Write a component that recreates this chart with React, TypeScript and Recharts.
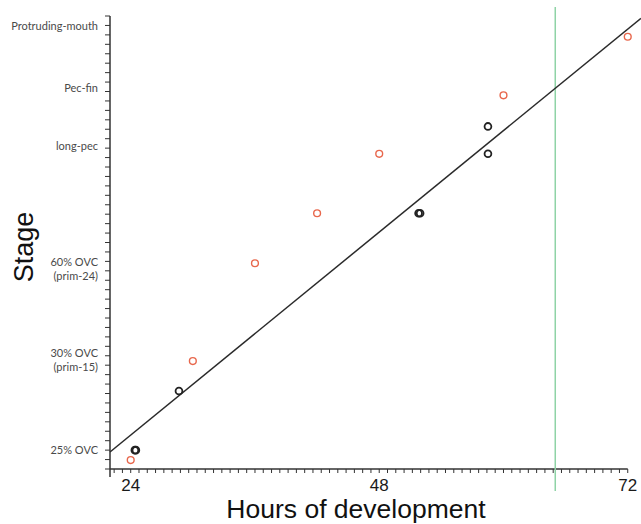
import { ReferenceLine, Scatter, ScatterChart, XAxis, YAxis } from 'recharts';

// hours of development (x) and stage position (y)
const stagedHours = [24, 30, 36, 42, 48, 60, 72];
const stagedStage = [0.95, 11.44, 21.8, 27.1, 33.4, 39.6, 45.8];

const observedHours = [24.4, 24.5, 28.66, 51.8, 51.95, 58.5, 58.5];
const observedStage = [2.0, 2.0, 8.26, 27.1, 27.1, 36.3, 33.4];

const fitHours = [22, 73.28];
const fitStage = [1.8, 47.76];

const markerHour = 65;

const hourLabels = [24, 48, 72];
const stageLabelValues = [47.05, 40.5, 34.3, 21.27, 11.63, 2.1];
const stageLabelText = [
  ['Protruding-mouth'],
  ['Pec-fin'],
  ['long-pec'],
  ['60% OVC', '(prim-24)'],
  ['30% OVC', '(prim-15)'],
  ['25% OVC'],
];

const zip = (xs: number[], ys: number[]) => xs.map((x, i) => ({ x, y: ys[i] }));
const staged = zip(stagedHours, stagedStage);
const observed = zip(observedHours, observedStage);
const fit = zip(fitHours, fitStage);

const xTicks: number[] = [];
for (let i = 0; i <= 62; i++) xTicks.push(+(72 - i * 0.8).toFixed(2));
xTicks.reverse();

const yTicks: number[] = [];
for (let i = 0; i <= 48; i++) yTicks.push(i);

const ring = (color: string, width: number) => (props: any) => (
  <circle cx={props.cx} cy={props.cy} r={3.4} fill="none" stroke={color} strokeWidth={width} />
);

const XTick = (props: any) => {
  const { x, y, payload } = props;
  const isLabel = hourLabels.includes(payload.value);
  return (
    <g>
      <line x1={x} x2={x} y1={y} y2={y + 4} stroke="#333" strokeWidth={1} />
      {isLabel && (
        <text x={x} y={y + 22} textAnchor="middle" fontSize={17} fill="#1a1a1a" fontFamily="Liberation Sans, Arial, sans-serif">
          {payload.value}
        </text>
      )}
    </g>
  );
};

const YTick = (props: any) => {
  const { x, y, payload } = props;
  const idx = stageLabelValues.indexOf(payload.value);
  if (idx >= 0) {
    const lines = stageLabelText[idx];
    const start = y - ((lines.length - 1) * 14) / 2;
    return (
      <text x={x - 12} y={start} textAnchor="end" fontSize={11} fill="#4a4a4a" fontFamily="Lato, sans-serif" dominantBaseline="central">
        {lines.map((l, i) => (
          <tspan key={i} x={x - 12} y={start + i * 14}>
            {l}
          </tspan>
        ))}
      </text>
    );
  }
  return <line x1={x - 5} x2={x} y1={y} y2={y} stroke="#333" strokeWidth={1} />;
};

export default function App() {
  return (
    <div style={{ position: 'absolute', left: 0, top: 0, width: 641, height: 524, background: '#fff' }}>
      <ScatterChart width={641} height={524} margin={{ top: 16, right: 0, bottom: 0, left: 0 }}>
        <XAxis
          type="number"
          dataKey="x"
          domain={[22, 73.28]}
          ticks={xTicks}
          interval={0}
          axisLine={false}
          tickLine={false}
          tickSize={0}
          tickMargin={0}
          tick={<XTick />}
          height={55}
        />
        <YAxis
          type="number"
          dataKey="y"
          domain={[0, 48]}
          ticks={[...yTicks, ...stageLabelValues].sort((a, b) => a - b)}
          interval={0}
          axisLine={{ stroke: '#333', strokeWidth: 1.5 }}
          tickLine={false}
          tickSize={0}
          tickMargin={0}
          tick={<YTick />}
          width={110}
        />
        <ReferenceLine
          segment={[{ x: 22, y: 0 }, { x: 72, y: 0 }]}
          stroke="#333"
          strokeWidth={1.5}
          ifOverflow="visible"
        />
        <ReferenceLine
          segment={[{ x: 22, y: 0 }, { x: 22, y: -0.85 }]}
          stroke="#333"
          strokeWidth={1.5}
          ifOverflow="visible"
        />
        <ReferenceLine
          segment={[{ x: markerHour, y: -2.33 }, { x: markerHour, y: 48.95 }]}
          stroke="#8fd3a6"
          strokeWidth={1.5}
          ifOverflow="visible"
        />
        <Scatter
          data={fit}
          line={{ stroke: '#2a2a2a', strokeWidth: 1.5 }}
          shape={() => <g />}
          isAnimationActive={false}
        />
        <Scatter data={observed} shape={ring('#222', 1.8)} isAnimationActive={false} />
        <Scatter data={staged} shape={ring('#e8674c', 1.4)} isAnimationActive={false} />
        <text
          x={24}
          y={247}
          transform="rotate(-90 24 247)"
          textAnchor="middle"
          dominantBaseline="central"
          fontSize={27}
          fill="#111"
          fontFamily="Liberation Sans, Arial, sans-serif"
        >
          Stage
        </text>
        <text
          x={356}
          y={518}
          textAnchor="middle"
          fontSize={26.5}
          fill="#111"
          fontFamily="Liberation Sans, Arial, sans-serif"
        >
          Hours of development
        </text>
      </ScatterChart>
    </div>
  );
}
